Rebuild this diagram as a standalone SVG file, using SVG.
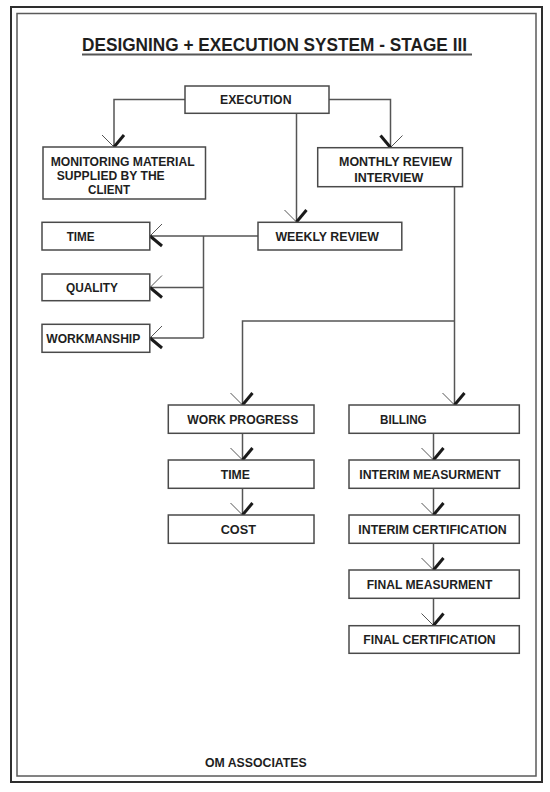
<svg xmlns="http://www.w3.org/2000/svg" width="550" height="792" viewBox="0 0 550 792">
<style>
  .box { fill: #ffffff; stroke: #4a4a4a; stroke-width: 1.5; }
  .t { font-family: "Liberation Sans", Arial, sans-serif; font-weight: bold; font-size: 13px; fill: #1e1e1e; }
  .title { font-family: "Liberation Sans", Arial, sans-serif; font-weight: bold; font-size: 18px; fill: #1e1e1e; }
  .conn { fill: none; stroke: #555555; stroke-width: 1.5; }
  .thin { fill: none; stroke: #555555; stroke-width: 1; }
  .thick { fill: none; stroke: #1a1a1a; stroke-width: 3; }
</style>
<defs>
  <marker id="arr" markerUnits="userSpaceOnUse" markerWidth="30" markerHeight="30" refX="0" refY="0" orient="auto" overflow="visible">
    <path class="thin" d="M-12,12 L0,0"/>
    <path class="thick" d="M0,0 L-12,-10"/>
  </marker>
  <marker id="arr2" markerUnits="userSpaceOnUse" markerWidth="30" markerHeight="30" refX="0" refY="0" orient="auto" overflow="visible">
    <path class="thin" d="M-12,-12 L0,0"/>
    <path class="thick" d="M0,0 L-12,10"/>
  </marker>
</defs>
<rect x="0" y="0" width="550" height="792" fill="#ffffff"/>
<g id="frame">
  <rect x="11" y="7" width="531" height="775" fill="none" stroke="#2e2e2e" stroke-width="2"/>
  <rect x="17" y="13.5" width="519" height="762.5" fill="none" stroke="#5a5a5a" stroke-width="1.5"/>
</g>
<g id="title">
  <text class="title" x="82" y="51" textLength="385" lengthAdjust="spacingAndGlyphs">DESIGNING + EXECUTION SYSTEM - STAGE III</text>
  <line x1="82" y1="54.5" x2="472" y2="54.5" stroke="#555555" stroke-width="1.8"/>
</g>
<g id="connectors">
  <path class="conn" d="M185,99.5 H114 V147" marker-end="url(#arr)"/>
  <path class="conn" d="M329,99.5 H390.5 V147.5" marker-end="url(#arr2)"/>
  <path class="conn" d="M296.5,113 V222" marker-end="url(#arr)"/>
  <path class="conn" d="M258,236 H150" marker-end="url(#arr)"/>
  <path class="conn" d="M203.5,236 V338"/>
  <path class="conn" d="M203.5,287.5 H150" marker-end="url(#arr)"/>
  <path class="conn" d="M203.5,338 H150" marker-end="url(#arr)"/>
  <path class="conn" d="M454.5,187 V405" marker-end="url(#arr)"/>
  <path class="conn" d="M454.5,321 H242.5 V405" marker-end="url(#arr)"/>
  <path class="conn" d="M242.5,433.5 V460" marker-end="url(#arr)"/>
  <path class="conn" d="M242.5,488.5 V515" marker-end="url(#arr)"/>
  <path class="conn" d="M433.5,433.5 V460" marker-end="url(#arr)"/>
  <path class="conn" d="M433.5,488.5 V515" marker-end="url(#arr)"/>
  <path class="conn" d="M433.5,543.5 V570" marker-end="url(#arr)"/>
  <path class="conn" d="M433.5,598.5 V625.5" marker-end="url(#arr)"/>
</g>
<g id="execution">
  <rect class="box" x="185" y="86" width="144" height="27.3"/>
  <text class="t" x="220" y="104.3" textLength="71.5" lengthAdjust="spacingAndGlyphs">EXECUTION</text>
</g>
<g id="monitoring">
  <rect class="box" x="43" y="147" width="162.5" height="52"/>
  <text class="t" x="50.7" y="166" textLength="144" lengthAdjust="spacingAndGlyphs">MONITORING MATERIAL</text>
  <text class="t" x="56.7" y="180.3" textLength="108" lengthAdjust="spacingAndGlyphs">SUPPLIED BY THE</text>
  <text class="t" x="88" y="194.3" textLength="42" lengthAdjust="spacingAndGlyphs">CLIENT</text>
</g>
<g id="monthly">
  <rect class="box" x="317.7" y="147.7" width="144.8" height="39"/>
  <text class="t" x="339" y="166" textLength="113" lengthAdjust="spacingAndGlyphs">MONTHLY REVIEW</text>
  <text class="t" x="354.3" y="181.7" textLength="69" lengthAdjust="spacingAndGlyphs">INTERVIEW</text>
</g>
<g id="weekly">
  <rect class="box" x="258" y="222.3" width="143.8" height="27.7"/>
  <text class="t" x="275.4" y="240.5" textLength="103.6" lengthAdjust="spacingAndGlyphs">WEEKLY REVIEW</text>
</g>
<g id="time1">
  <rect class="box" x="42" y="222.3" width="107.8" height="27.7"/>
  <text class="t" x="66.7" y="240.5" textLength="28" lengthAdjust="spacingAndGlyphs">TIME</text>
</g>
<g id="quality">
  <rect class="box" x="42" y="274" width="107.8" height="26.7"/>
  <text class="t" x="66" y="292" textLength="52" lengthAdjust="spacingAndGlyphs">QUALITY</text>
</g>
<g id="workmanship">
  <rect class="box" x="42" y="324.3" width="107.8" height="28"/>
  <text class="t" x="46.3" y="342.5" textLength="94" lengthAdjust="spacingAndGlyphs">WORKMANSHIP</text>
</g>
<g id="workprogress">
  <rect class="box" x="168.3" y="405" width="145.7" height="28.3"/>
  <text class="t" x="187.3" y="424" textLength="111" lengthAdjust="spacingAndGlyphs">WORK PROGRESS</text>
</g>
<g id="time2">
  <rect class="box" x="168.3" y="460" width="145.7" height="28.3"/>
  <text class="t" x="220.7" y="479" textLength="29.3" lengthAdjust="spacingAndGlyphs">TIME</text>
</g>
<g id="cost">
  <rect class="box" x="168.3" y="515" width="145.7" height="28.3"/>
  <text class="t" x="220.7" y="534" textLength="35.3" lengthAdjust="spacingAndGlyphs">COST</text>
</g>
<g id="billing">
  <rect class="box" x="349" y="405" width="170.3" height="28.3"/>
  <text class="t" x="380" y="424" textLength="46.7" lengthAdjust="spacingAndGlyphs">BILLING</text>
</g>
<g id="interimmeas">
  <rect class="box" x="349" y="460" width="170.3" height="28.3"/>
  <text class="t" x="359.3" y="479" textLength="141.4" lengthAdjust="spacingAndGlyphs">INTERIM MEASURMENT</text>
</g>
<g id="interimcert">
  <rect class="box" x="349" y="515" width="170.3" height="28.3"/>
  <text class="t" x="358.3" y="534" textLength="148.4" lengthAdjust="spacingAndGlyphs">INTERIM CERTIFICATION</text>
</g>
<g id="finalmeas">
  <rect class="box" x="349" y="570" width="170.3" height="28.3"/>
  <text class="t" x="366.7" y="589" textLength="125.6" lengthAdjust="spacingAndGlyphs">FINAL MEASURMENT</text>
</g>
<g id="finalcert">
  <rect class="box" x="349" y="625.7" width="170.3" height="27.6"/>
  <text class="t" x="363.3" y="644" textLength="132.4" lengthAdjust="spacingAndGlyphs">FINAL CERTIFICATION</text>
</g>
<g id="footer">
  <text class="t" x="205" y="766.5" textLength="101.7" lengthAdjust="spacingAndGlyphs">OM ASSOCIATES</text>
</g>
</svg>
